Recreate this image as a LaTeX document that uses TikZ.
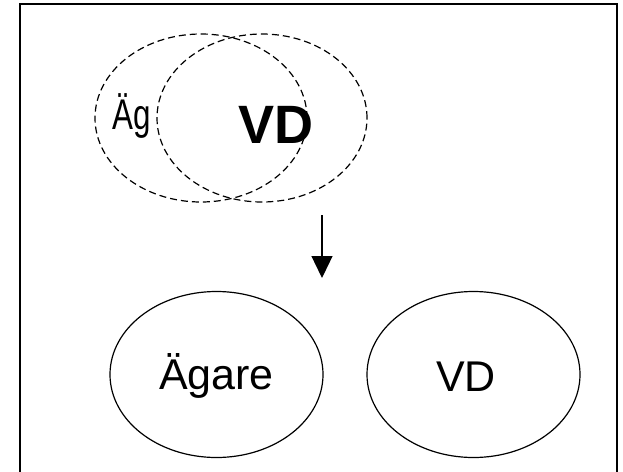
\documentclass[tikz,border=0pt]{standalone}
\usepackage{fontspec}
\setmainfont{Liberation Sans}
\usetikzlibrary{shapes.geometric,arrows.meta}
\tikzset{
  dashell/.style={draw, ellipse, dash pattern=on 7pt off 4pt, line width=1.2pt, inner sep=0pt},
  solell/.style={draw, ellipse, line width=1.2pt, inner sep=0pt, minimum width=213pt, minimum height=166pt},
  lbl/.style={inner sep=0pt, font=\fontsize{43}{48}\selectfont},
  frame/.style={line width=1.6pt},
  arr/.style={line width=1.3pt, -{Triangle[length=22pt, width=21pt]}}
}
\begin{document}
\begin{tikzpicture}[x=1pt,y=-1pt]
\useasboundingbox (0,0) rectangle (623,471);
% frame (bottom lies below the picture)
\draw[frame] (20,480) -- (20,4) -- (617,4) -- (617,480);
% overlapping dashed ellipses
\node[dashell, minimum width=212pt, minimum height=168pt] (eL) at (201,118) {};
\node[dashell, minimum width=210pt, minimum height=168pt] (eR) at (262,118) {};
\node[inner sep=0pt, anchor=base west, font=\fontsize{33}{38}\selectfont, xscale=0.95, yscale=1.3, transform shape] (ag) at (112,129) {Äg};
\node[inner sep=0pt, anchor=base, font=\fontsize{54}{60}\selectfont\bfseries] (vdb) at (276,143) {VD};
% arrow
\coordinate (a1) at (322,215);
\coordinate (a2) at (322,278);
\draw[arr] (a1) -- (a2);
% bottom ellipses
\node[solell] (own) at (216.5,374.5) {};
\node[solell] (vd) at (473.5,374.5) {};
\node[lbl, anchor=base] (owntxt) at (216.5,389) {Ägare};
\node[lbl, anchor=base] (vdtxt) at (466,391) {VD};
\end{tikzpicture}
\end{document}
